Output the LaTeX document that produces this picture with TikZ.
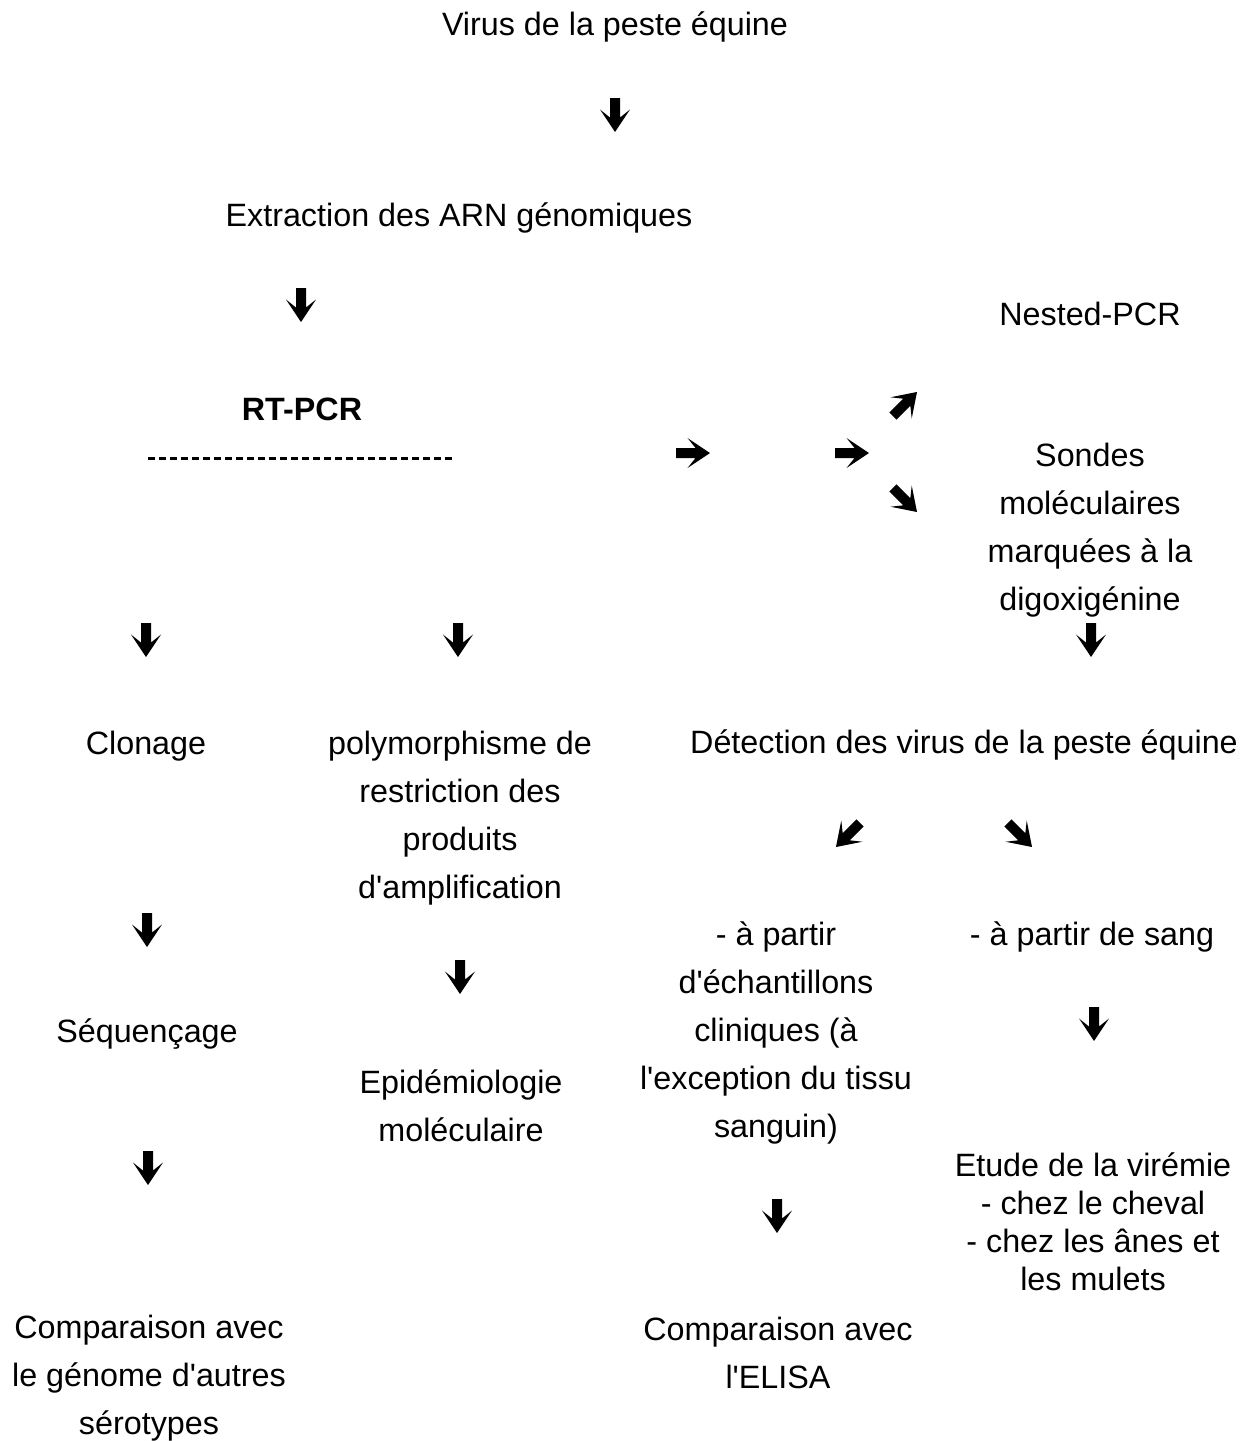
\documentclass[tikz,border=0pt]{standalone}
\usepackage{fontspec}
\setmainfont{Liberation Sans}
\newcommand{\apos}{\textquotesingle}
\begin{document}
\begin{tikzpicture}[x=1pt,y=-1pt,
  lbl/.style={font=\fontsize{32.3}{48}\selectfont, align=center, inner sep=0pt},
  tightlbl/.style={font=\fontsize{32.3}{38}\selectfont, align=center, inner sep=0pt},
  garrow/.pic={\fill[black] (-17,-5) -- (2.5,-5) -- (-5.5,-15) -- (17,0) -- (-5.5,15) -- (2.5,5) -- (-17,5) -- cycle;},
  dashrow/.style={line width=3pt, dash pattern=on 7pt off 4pt}]
\useasboundingbox (0,0) rectangle (1259,1441);

% texts
\node[lbl] (virus) at (615,27) {Virus de la peste équine};
\node[lbl] (extr) at (459,218) {Extraction des ARN génomiques};
\node[lbl] (nested) at (1090,314) {Nested-PCR};
\node[lbl, font=\fontsize{32.3}{48}\selectfont\bfseries] (rtpcr) at (302,409) {RT-PCR};
\node[lbl] (sondes) at (1090,530) {Sondes\\moléculaires\\marquées à la\\digoxigénine};
\node[lbl] (clon) at (146,746) {Clonage};
\node[lbl] (poly) at (460,818) {polymorphisme de\\restriction des\\produits\\d\apos amplification};
\node[lbl] (detect) at (964,745) {Détection des virus de la peste équine};
\node[lbl] (apartir) at (776,1033) {- à partir\\d\apos échantillons\\cliniques (à\\l\apos exception du tissu\\sanguin)};
\node[lbl] (sang) at (1092,937) {- à partir de sang};
\node[lbl] (seq) at (147,1034) {Séquençage};
\node[lbl] (epid) at (461,1106) {Epidémiologie\\moléculaire};
\node[tightlbl] (etude) at (1093,1222) {Etude de la virémie\\- chez le cheval\\- chez les ânes et\\les mulets};
\node[lbl] (compL) at (149,1378.5) {Comparaison avec\\le génome d\apos autres\\sérotypes};
\node[lbl] (compR) at (778,1353) {Comparaison avec\\l\apos ELISA};

% dashed row
\coordinate (dA) at (148,458);
\coordinate (dB) at (455,458);
\draw[dashrow] (dA) -- (dB);

% arrow glyphs
\pic (a1) [rotate=-90] at (615,115) {garrow};
\pic (a2) [rotate=-90] at (301,305) {garrow};
\pic (a3) at (693,453) {garrow};
\pic (a4) at (852,453) {garrow};
\pic (a5) [rotate=45] at (905,404) {garrow};
\pic (a6) [rotate=-45] at (905,500) {garrow};
\pic (a7) [rotate=-90] at (1091,640) {garrow};
\pic (a8) [rotate=-90] at (146,640) {garrow};
\pic (a9) [rotate=-90] at (458,640) {garrow};
\pic (a10) [rotate=-135] at (848,835) {garrow};
\pic (a11) [rotate=-45] at (1020,835) {garrow};
\pic (a12) [rotate=-90] at (147,930) {garrow};
\pic (a13) [rotate=-90] at (460,977) {garrow};
\pic (a14) [rotate=-90] at (1094,1024) {garrow};
\pic (a15) [rotate=-90] at (148,1168) {garrow};
\pic (a16) [rotate=-90] at (777,1216) {garrow};
\end{tikzpicture}
\end{document}
